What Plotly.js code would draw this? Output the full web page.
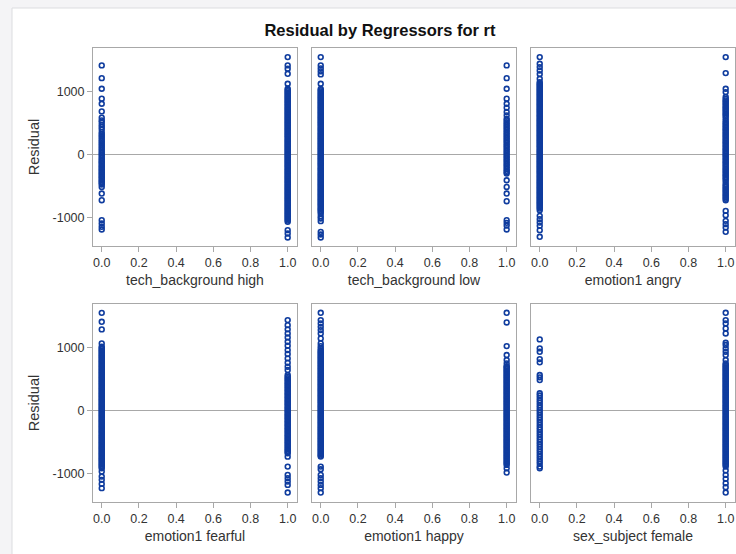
<!DOCTYPE html>
<html>
<head>
<meta charset="utf-8">
<script src="https://cdn.plot.ly/plotly-3.0.1.min.js"></script>
<style>
  html, body { margin: 0; padding: 0; background: #f4f4f6; }
  #chart { width: 736px; height: 554px; }
</style>
</head>
<body>
<div id="chart"></div>
<script>
// Regressor labels, one per panel
const regressors = [
  "tech_background high", "tech_background low", "emotion1 angry",
  "emotion1 fearful", "emotion1 happy", "sex_subject female"
];
const xTickVals = [0, 0.2, 0.4, 0.6, 0.8, 1.0];
const xTickText = ["0.0", "0.2", "0.4", "0.6", "0.8", "1.0"];
const yTickVals = [-1000, 0, 1000];
const yTickText = ["-1000", "0", "1000"];

// Residuals of rt, split by the dummy value (0 / 1) of each regressor
const techHigh0 = [1413, 1211, 1042, 884, 804, 682, 582, 540, 512, 470, 433, 398, 352, 318, 290, 262, 231, 205, 176, 150, 122, 96, 71, 43, 18, -8, -36, -61, -87, -110, -131, -152, -176, -198, -219, -240, -262, -285, -304, -327, -348, -370, -391, -414, -436, -457, -480, -519, -624, -730, -1048, -1100, -1153, -1196];
const techHigh1 = [1545, 1413, 1360, 1280, 1122, 1042, 1023, 1003, 982, 963, 944, 923, 904, 884, 865, 845, 826, 805, 786, 767, 746, 727, 708, 688, 668, 649, 629, 610, 590, 571, 551, 531, 512, 492, 473, 453, 434, 414, 394, 375, 355, 336, 316, 297, 277, 258, 238, 218, 199, 179, 160, 140, 121, 101, 82, 62, 42, 23, 3, -16, -36, -55, -75, -94, -114, -134, -153, -173, -192, -212, -231, -251, -270, -290, -310, -329, -349, -368, -388, -407, -427, -446, -466, -486, -505, -525, -544, -564, -583, -603, -622, -642, -662, -681, -701, -720, -740, -759, -779, -798, -818, -838, -857, -877, -896, -916, -935, -955, -974, -994, -1014, -1033, -1053, -1074, -1206, -1259, -1323];

const techLow0 = [1545, 1413, 1365, 1318, 1270, 1122, 1040, 1021, 1001, 981, 961, 942, 922, 902, 882, 863, 843, 823, 803, 784, 764, 744, 724, 705, 685, 665, 645, 626, 606, 586, 566, 547, 527, 507, 487, 468, 448, 428, 408, 389, 369, 349, 329, 310, 290, 270, 250, 231, 211, 191, 171, 152, 132, 112, 92, 73, 53, 33, 13, -6, -26, -46, -66, -85, -105, -125, -145, -164, -184, -204, -224, -243, -263, -283, -303, -322, -342, -362, -382, -401, -421, -441, -461, -480, -500, -520, -540, -559, -579, -599, -619, -638, -658, -678, -698, -717, -737, -757, -777, -796, -816, -836, -856, -875, -895, -915, -942, -984, -1021, -1063, -1233, -1275, -1323];
const techLow1 = [1413, 1211, 1042, 884, 804, 741, 672, 619, 566, 540, 512, 485, 461, 434, 410, 383, 357, 332, 306, 280, 254, 229, 203, 178, 150, 127, 99, 74, 47, 22, -4, -30, -56, -81, -107, -133, -160, -184, -211, -236, -263, -285, -307, -413, -519, -624, -746, -1048, -1090, -1132, -1196];

const angry0 = [1545, 1439, 1386, 1333, 1275, 1201, 1148, 1128, 1108, 1089, 1069, 1049, 1029, 1010, 990, 970, 951, 931, 911, 891, 872, 852, 832, 813, 793, 773, 753, 734, 714, 694, 675, 655, 635, 615, 596, 576, 556, 537, 517, 497, 477, 458, 438, 418, 399, 379, 359, 339, 320, 300, 280, 261, 241, 221, 201, 182, 162, 142, 123, 103, 83, 63, 44, 24, 4, -15, -35, -55, -75, -94, -114, -134, -153, -173, -193, -213, -232, -252, -272, -291, -311, -331, -351, -370, -390, -410, -429, -449, -469, -489, -508, -528, -548, -567, -587, -607, -627, -646, -666, -686, -705, -725, -745, -765, -784, -804, -824, -843, -863, -889, -979, -1032, -1085, -1138, -1206, -1312];
const angry1 = [1545, 1291, 1042, 989, 910, 880, 857, 834, 811, 788, 765, 742, 719, 696, 673, 650, 627, 604, 575, 540, 512, 489, 466, 443, 420, 397, 374, 351, 328, 305, 282, 259, 236, 213, 190, 167, 144, 121, 98, 75, 52, 29, 6, -17, -40, -63, -86, -109, -132, -155, -178, -201, -224, -247, -270, -293, -316, -339, -362, -385, -408, -440, -477, -500, -523, -546, -569, -592, -615, -638, -661, -684, -707, -730, -900, -968, -1058, -1111, -1164, -1233];

const fearful0 = [1549, 1407, 1286, 1063, 1010, 990, 971, 951, 932, 912, 893, 873, 854, 834, 815, 795, 776, 756, 737, 717, 698, 678, 659, 639, 620, 600, 581, 561, 542, 522, 503, 483, 464, 444, 425, 405, 386, 366, 347, 327, 308, 288, 269, 249, 230, 210, 191, 171, 152, 132, 113, 93, 74, 54, 35, 15, -4, -24, -43, -63, -82, -102, -121, -141, -160, -180, -199, -219, -238, -258, -277, -297, -316, -336, -355, -375, -394, -414, -433, -453, -472, -492, -511, -531, -550, -570, -589, -609, -628, -648, -667, -687, -706, -726, -745, -765, -784, -804, -823, -843, -862, -882, -901, -921, -974, -1053, -1106, -1170, -1238];
const fearful1 = [1434, 1354, 1287, 1222, 1159, 1090, 1027, 957, 894, 825, 757, 693, 640, 560, 535, 512, 490, 468, 446, 424, 401, 379, 357, 335, 313, 290, 268, 246, 224, 202, 179, 157, 135, 113, 91, 68, 46, 24, 2, -20, -43, -65, -87, -109, -131, -154, -176, -198, -220, -242, -265, -287, -309, -331, -353, -376, -398, -420, -442, -464, -487, -509, -531, -553, -575, -598, -620, -642, -664, -683, -737, -895, -1027, -1079, -1133, -1186, -1308];

const happy0 = [1550, 1434, 1381, 1327, 1275, 1222, 1143, 1063, 1020, 984, 957, 937, 918, 898, 879, 859, 840, 820, 801, 781, 762, 742, 723, 703, 684, 664, 645, 625, 606, 586, 567, 547, 528, 508, 489, 469, 450, 430, 411, 391, 372, 352, 333, 313, 294, 274, 255, 235, 216, 196, 177, 157, 138, 118, 99, 79, 60, 40, 21, 1, -18, -38, -57, -77, -96, -116, -135, -155, -174, -194, -213, -233, -252, -272, -291, -311, -330, -350, -369, -389, -408, -428, -447, -467, -486, -506, -525, -545, -564, -584, -603, -623, -642, -662, -681, -701, -720, -736, -895, -937, -1027, -1079, -1133, -1186, -1238, -1308];
const happy1 = [1550, 1397, 1021, 878, 799, 746, 703, 692, 672, 653, 633, 614, 594, 575, 555, 536, 516, 497, 477, 458, 438, 419, 399, 380, 360, 341, 321, 302, 282, 263, 243, 224, 204, 185, 165, 146, 126, 107, 87, 68, 48, 29, 9, -10, -30, -49, -69, -88, -108, -127, -147, -166, -186, -205, -225, -244, -264, -283, -303, -322, -342, -361, -381, -400, -420, -439, -459, -478, -498, -517, -537, -556, -576, -595, -615, -634, -654, -673, -693, -712, -732, -751, -771, -790, -810, -829, -849, -868, -921, -990];

const female0 = [1127, 984, 930, 814, 762, 560, 524, 481, 270, 235, 196, 158, 121, 80, 42, 3, -36, -75, -114, -152, -190, -231, -270, -308, -347, -386, -425, -463, -503, -541, -580, -618, -657, -696, -735, -774, -812, -851, -895, -921];
const female1 = [1550, 1434, 1381, 1301, 1222, 1073, 1037, 984, 930, 878, 799, 746, 726, 707, 687, 668, 648, 629, 609, 590, 570, 551, 531, 512, 492, 473, 453, 434, 414, 395, 375, 356, 336, 317, 297, 278, 258, 239, 219, 200, 180, 161, 141, 122, 102, 83, 63, 44, 24, 5, -15, -34, -54, -73, -93, -112, -132, -151, -171, -190, -210, -229, -249, -268, -288, -307, -327, -346, -366, -385, -405, -424, -444, -463, -483, -502, -522, -541, -561, -580, -600, -619, -639, -658, -678, -697, -717, -736, -756, -775, -795, -814, -834, -853, -868, -895, -958, -1027, -1090, -1159, -1222, -1308];

const groups = [
  [techHigh0, techHigh1], [techLow0, techLow1], [angry0, angry1],
  [fearful0, fearful1], [happy0, happy1], [female0, female1]
];

// Page geometry (pixels), converted to paper fractions below
const W = 736, H = 554;
const colPx = [[93, 297], [312, 516], [531, 735]];
const rowPx = [[48, 246], [304, 502]];
const blue = "#0f3c9e";
const frame = "#a8a8a8";
const font = "Liberation Sans, Arial, sans-serif";

const traces = [];
const layout = {
  width: W, height: H,
  margin: {l: 0, r: 0, t: 0, b: 0},
  paper_bgcolor: "#f4f4f6",
  plot_bgcolor: "#ffffff",
  showlegend: false,
  font: {family: font, size: 12, color: "#333333"},
  title: {
    text: "<b>Residual by Regressors for rt</b>",
    font: {family: font, size: 16.5, color: "#111111"},
    x: 380 / W, xref: "paper", xanchor: "center",
    y: 1 - 30 / H, yref: "paper", yanchor: "middle"
  },
  shapes: [{
    type: "rect", xref: "paper", yref: "paper", layer: "below",
    x0: 12 / W, x1: 760 / W, y0: 1 - 570 / H, y1: 1 - 8 / H,
    fillcolor: "#ffffff", line: {color: "#dcdde0", width: 1}
  }]
};

groups.forEach((g, i) => {
  const row = Math.floor(i / 3), col = i % 3;
  const id = i === 0 ? "" : String(i + 1);
  g.forEach((ys, xv) => {
    traces.push({
      type: "scatter", mode: "markers",
      x: ys.map(() => xv), y: ys,
      xaxis: "x" + id, yaxis: "y" + id,
      marker: {symbol: "circle-open", size: 4.8, color: blue, line: {width: 1.6, color: blue}},
      hoverinfo: "skip"
    });
  });
  layout["xaxis" + id] = {
    domain: [colPx[col][0] / W, colPx[col][1] / W],
    anchor: "y" + id,
    range: [-0.047, 1.05],
    tickvals: xTickVals, ticktext: xTickText,
    ticks: "outside", ticklen: 5, tickcolor: frame,
    tickfont: {size: 12.5, color: "#333333"},
    showline: true, mirror: true, linecolor: frame, linewidth: 1,
    showgrid: false, zeroline: false,
    title: {text: regressors[i], font: {size: 14, color: "#333333"}, standoff: 6}
  };
  layout["yaxis" + id] = {
    domain: [1 - rowPx[row][1] / H, 1 - rowPx[row][0] / H],
    anchor: "x" + id,
    range: [-1458, 1690],
    tickvals: yTickVals, ticktext: yTickText,
    ticks: col === 0 ? "outside" : "", ticklen: 5, tickcolor: frame,
    showticklabels: col === 0,
    tickfont: {size: 12.5, color: "#333333"},
    showline: true, mirror: true, linecolor: frame, linewidth: 1,
    showgrid: false,
    zeroline: true, zerolinecolor: frame, zerolinewidth: 1,
    title: col === 0 ? {text: "Residual", font: {size: 14.5, color: "#333333"}, standoff: 9} : {text: ""}
  };
});

Plotly.newPlot("chart", traces, layout, {displayModeBar: false, staticPlot: true});
</script>
</body>
</html>
